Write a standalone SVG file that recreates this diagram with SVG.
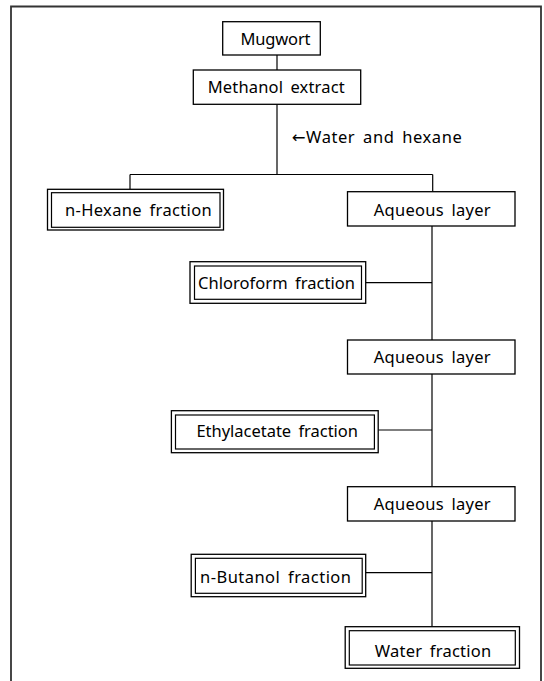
<svg xmlns="http://www.w3.org/2000/svg" width="544" height="681" viewBox="0 0 544 681">
<style>
  .box { fill: #fff; stroke: #000; stroke-width: 1.3; }
  .in { fill: none; stroke: #000; stroke-width: 1.2; }
  .lbl { font-family: "Noto Sans", "DejaVu Sans", sans-serif; font-size: 16.5px; fill: #000; word-spacing: 3px; }
  .conn line { stroke: #000; stroke-width: 1.2; }
  .frame { fill: none; stroke: #333; stroke-width: 1.8; }
</style>
<rect width="544" height="681" fill="#fff"/>
<path class="frame" d="M11,681 V6.5 H541 V681"/>
<g class="conn">
  <line x1="277" y1="55" x2="277" y2="70"/>
  <line x1="277" y1="104.3" x2="277" y2="174.5"/>
  <line x1="130" y1="174.5" x2="432.7" y2="174.5"/>
  <line x1="130" y1="174.5" x2="130" y2="189.3"/>
  <line x1="432.7" y1="174.5" x2="432.7" y2="191.7"/>
  <line x1="432" y1="226" x2="432" y2="340"/>
  <line x1="365.7" y1="282.7" x2="432" y2="282.7"/>
  <line x1="432" y1="374" x2="432" y2="486.7"/>
  <line x1="378.2" y1="430" x2="432" y2="430"/>
  <line x1="432" y1="521" x2="432" y2="626.7"/>
  <line x1="365.7" y1="572.7" x2="432" y2="572.7"/>
</g>
<text class="lbl" x="291.7" y="143" textLength="170" lengthAdjust="spacing">←Water and hexane</text>
<g id="mugwort">
  <rect class="box" x="222.7" y="21.7" width="97.6" height="33.3"/>
  <text class="lbl" x="240.5" y="45" textLength="70" lengthAdjust="spacing">Mugwort</text>
</g>
<g id="methanol">
  <rect class="box" x="193.3" y="70" width="167.4" height="34.3"/>
  <text class="lbl" x="207.7" y="93.3" textLength="137" lengthAdjust="spacing">Methanol extract</text>
</g>
<g id="hexane">
  <rect class="box" x="47.5" y="189.3" width="176" height="40.7"/>
  <rect class="in" x="51.5" y="192.7" width="168.5" height="34.6"/>
  <text class="lbl" x="65" y="216" textLength="146.7" lengthAdjust="spacing">n-Hexane fraction</text>
</g>
<g id="aqueous1">
  <rect class="box" x="347.5" y="191.7" width="167.5" height="34.3"/>
  <text class="lbl" x="373.7" y="216" textLength="117" lengthAdjust="spacing">Aqueous layer</text>
</g>
<g id="chloroform">
  <rect class="box" x="190" y="261.7" width="175.7" height="41.6"/>
  <rect class="in" x="194.5" y="266" width="167" height="33.3"/>
  <text class="lbl" x="198" y="289.3" textLength="157" lengthAdjust="spacing">Chloroform fraction</text>
</g>
<g id="aqueous2">
  <rect class="box" x="347.5" y="340" width="167.5" height="34"/>
  <text class="lbl" x="373.7" y="363.3" textLength="117" lengthAdjust="spacing">Aqueous layer</text>
</g>
<g id="ethylacetate">
  <rect class="box" x="171.4" y="410.7" width="206.8" height="42"/>
  <rect class="in" x="175.5" y="415" width="198.9" height="34"/>
  <text class="lbl" x="196.4" y="436.7" textLength="161.6" lengthAdjust="spacing">Ethylacetate fraction</text>
</g>
<g id="aqueous3">
  <rect class="box" x="347.5" y="486.7" width="167.5" height="34.3"/>
  <text class="lbl" x="373.7" y="510" textLength="117" lengthAdjust="spacing">Aqueous layer</text>
</g>
<g id="butanol">
  <rect class="box" x="191.2" y="554.3" width="174.5" height="42.4"/>
  <rect class="in" x="195.4" y="558.3" width="166.8" height="35"/>
  <text class="lbl" x="200" y="583.3" textLength="151" lengthAdjust="spacing">n-Butanol fraction</text>
</g>
<g id="water">
  <rect class="box" x="345.2" y="626.7" width="174.3" height="41.6"/>
  <rect class="in" x="349.3" y="630.7" width="166" height="34.3"/>
  <text class="lbl" x="374.7" y="656.7" textLength="116.5" lengthAdjust="spacing">Water fraction</text>
</g>
</svg>
